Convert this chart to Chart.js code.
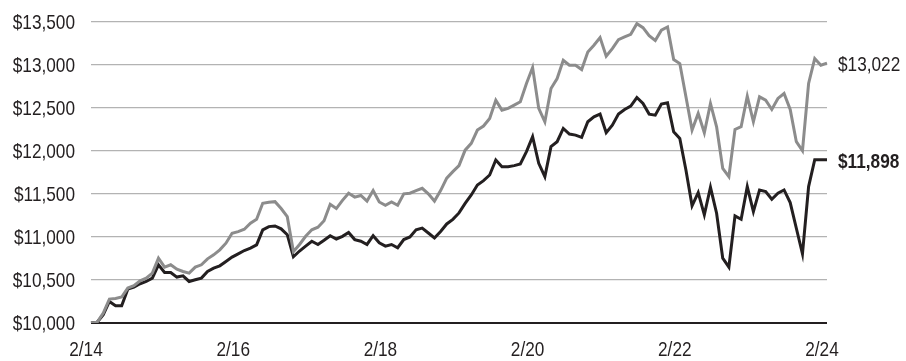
<!DOCTYPE html>
<html>
<head>
<meta charset="utf-8">
<script src="https://cdn.jsdelivr.net/npm/chart.js@4.4.1/dist/chart.umd.min.js"></script>
<style>
  html, body { margin: 0; padding: 0; background: #fff; }
  #wrap { width: 906px; height: 361px; position: relative; }
</style>
</head>
<body>
<div id="wrap"><canvas id="chart"></canvas></div>
<script>
// Growth of $10,000, monthly, 2/14 - 2/24
const tickLabels = ['2/14', '2/16', '2/18', '2/20', '2/22', '2/24'];

const fundValues = [
  10000, 10008, 10097, 10251, 10201, 10201, 10394, 10418, 10456, 10483,
  10522, 10677, 10588, 10588, 10534, 10549, 10483, 10503, 10522, 10599,
  10638, 10665, 10715, 10766, 10804, 10843, 10870, 10909, 11083, 11121,
  11128, 11095, 11027, 10770, 10837, 10894, 10951, 10913, 10962, 11015,
  10977, 11008, 11053, 10970, 10951, 10913, 11015, 10932, 10894, 10913,
  10875, 10970, 11000, 11084, 11103, 11046, 10989, 11065, 11152, 11205,
  11280, 11390, 11489, 11605, 11655, 11721, 11895, 11818, 11818, 11830,
  11849, 11992, 12166, 11857, 11702, 12050, 12108, 12263, 12197, 12185,
  12158, 12340, 12398, 12429, 12212, 12301, 12429, 12483, 12522, 12622,
  12553, 12429, 12417, 12545, 12560, 12224, 12147, 11779, 11362, 11516,
  11257, 11578, 11276, 10754, 10650, 11246, 11207, 11586, 11296, 11547,
  11528, 11439, 11509, 11547, 11400, 11102, 10804, 11586, 11898, 11898,
  11898
];

const indexValues = [
  10000, 10008, 10116, 10278, 10286, 10302, 10406, 10433, 10491, 10522,
  10580, 10754, 10650, 10677, 10626, 10599, 10580, 10650, 10677, 10746,
  10793, 10851, 10928, 11044, 11063, 11090, 11160, 11206, 11392, 11404,
  11411, 11331, 11236, 10830, 10913, 11008, 11084, 11114, 11190, 11380,
  11331, 11426, 11509, 11464, 11483, 11418, 11540, 11407, 11369, 11407,
  11369, 11502, 11509, 11540, 11566, 11502, 11418, 11540, 11684, 11760,
  11830, 12010, 12089, 12243, 12290, 12379, 12591, 12475, 12495, 12533,
  12572, 12785, 12970, 12495, 12340, 12727, 12843, 13055, 12997, 12997,
  12947, 13152, 13229, 13318, 13102, 13191, 13295, 13326, 13357, 13481,
  13434, 13340, 13285, 13405, 13442, 13063, 13017, 12630, 12243, 12437,
  12212, 12553, 12282, 11798, 11702, 12251, 12282, 12638, 12340, 12630,
  12591, 12483, 12611, 12669, 12483, 12108, 12003, 12785, 13075, 12997,
  13022
];

const endLabels = ['$13,022', '$11,898'];

// month labels 2/14 .. 2/24
const months = [];
for (let i = 0; i < fundValues.length; i++) {
  const m = (1 + i) % 12 + 1;
  const y = 14 + Math.floor((i + 1) / 12);
  months.push(m + '/' + y);
}

const FONT = '"Liberation Sans", Arial, sans-serif';
const INK = '#231f20';
const NARROW = 0.82; // squeeze to look like Arial Narrow

// draw condensed text (no narrow face installed)
function narrowText(ctx, text, x, y, align, bold) {
  ctx.save();
  ctx.translate(x, y);
  ctx.scale(NARROW, 1);
  ctx.font = (bold ? 'bold ' : '') + '21px ' + FONT;
  ctx.textAlign = align;
  ctx.textBaseline = 'middle';
  ctx.fillStyle = INK;
  ctx.fillText(text, 0, 0);
  ctx.restore();
}

const labelPlugin = {
  id: 'narrowLabels',
  afterDraw(chart) {
    const ctx = chart.ctx;
    const xs = chart.scales.x;
    const ys = chart.scales.y;
    ys.ticks.forEach((t) => {
      const y = ys.getPixelForValue(t.value);
      narrowText(ctx, '$' + t.value.toLocaleString('en-US'), chart.chartArea.left - 16, y + 1, 'right', false);
    });
    tickLabels.forEach((lbl, i) => {
      const x = xs.getPixelForValue(i * 24);
      narrowText(ctx, lbl, x - 5, 350, 'center', false);
    });
    chart.data.datasets.forEach((ds, i) => {
      const meta = chart.getDatasetMeta(i);
      const pt = meta.data[meta.data.length - 1];
      narrowText(ctx, endLabels[i], chart.chartArea.right + 11, pt.y + 2, 'left', ds.boldLabel);
    });
  }
};

new Chart(document.getElementById('chart'), {
  type: 'line',
  data: {
    labels: months,
    datasets: [
      {
        data: indexValues,
        borderColor: '#8c8c8c',
        borderWidth: 3,
        pointRadius: 0,
        tension: 0,
        boldLabel: false
      },
      {
        data: fundValues,
        borderColor: INK,
        borderWidth: 3,
        pointRadius: 0,
        tension: 0,
        boldLabel: true
      }
    ]
  },
  options: {
    responsive: true,
    maintainAspectRatio: false,
    animation: false,
    layout: { padding: { top: 22, right: 79, left: 0, bottom: 0 } },
    plugins: {
      legend: { display: false },
      tooltip: { enabled: false }
    },
    scales: {
      x: {
        grid: { display: false, drawTicks: false },
        border: { display: false },
        ticks: { display: false, autoSkip: false },
        afterFit: (scale) => { scale.height = 38; }
      },
      y: {
        min: 10000,
        max: 13500,
        grid: {
          drawTicks: false,
          color: (c) => (c.tick.value === 10000 ? INK : '#b3b3b3'),
          lineWidth: (c) => (c.tick.value === 10000 ? 2 : 1.3)
        },
        border: { display: false },
        ticks: { display: false, stepSize: 500 },
        afterFit: (scale) => { scale.width = 91; }
      }
    }
  },
  plugins: [labelPlugin]
});
</script>
</body>
</html>
